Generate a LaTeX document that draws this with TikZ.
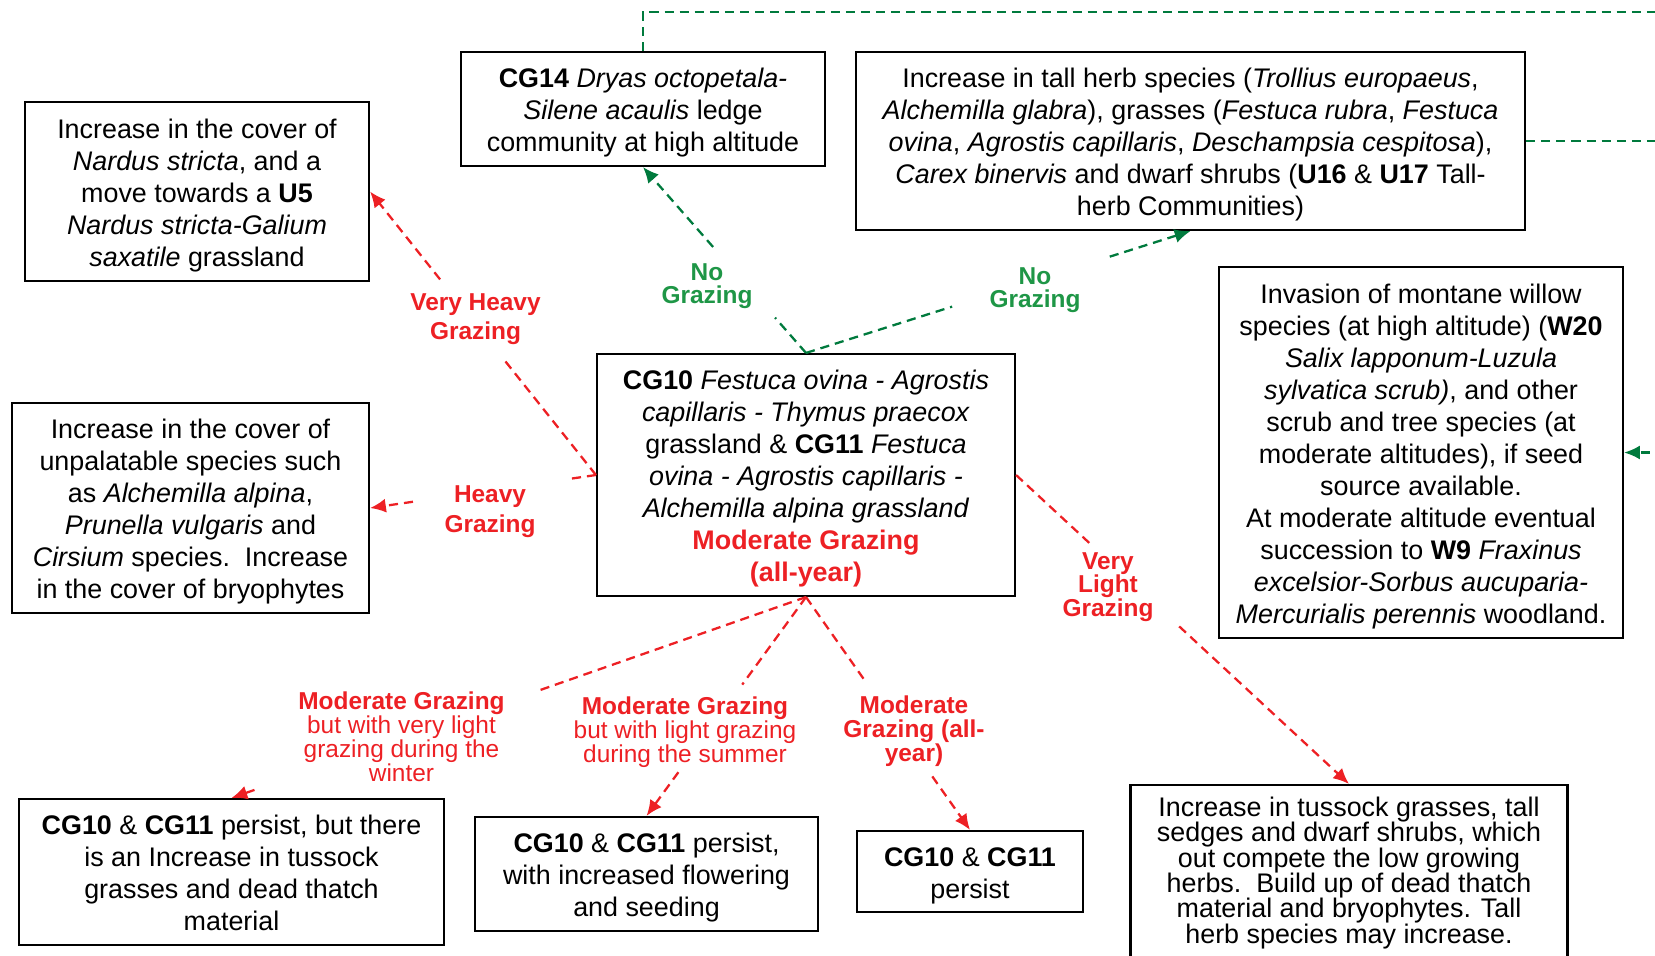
\documentclass[tikz,border=0pt]{standalone}
\usepackage{fontspec}
\setmainfont{Liberation Sans}
\usetikzlibrary{calc,arrows.meta}
\definecolor{grazered}{RGB}{237,32,36}
\definecolor{restgreen}{RGB}{0,122,61}
\definecolor{restgreentext}{RGB}{30,150,70}
% first line of a box sits a little lower
\newcommand{\upstrut}{\rule{0pt}{7.9pt}}

\begin{document}
\begin{tikzpicture}[
  box/.style={draw,line width=0.6pt,align=center,inner sep=0pt,font=\fontsize{7.65}{9.1}\selectfont,
    execute at end node={\rule[-1.7pt]{0pt}{1.7pt}}},
  redarr/.style={color=grazered,line width=0.65pt,dash pattern=on 2.6pt off 1.7pt,-{Latex[length=4.5pt,width=4pt]}},
  greenarr/.style={color=restgreen,line width=0.65pt,dash pattern=on 2.6pt off 1.7pt,-{Latex[length=4.5pt,width=4pt]}},
  greenline/.style={color=restgreen,line width=0.65pt,dash pattern=on 2.6pt off 1.7pt},
  redlbl/.style={text=grazered,align=center,inner sep=0pt,font=\fontsize{6.95}{6.8}\selectfont},
  greenlbl/.style={text=restgreentext,align=center,inner sep=0pt,font=\fontsize{6.95}{6.6}\selectfont\bfseries}
]
  \useasboundingbox (0,0) rectangle (16.55,-9.55);

  % boxes
  \node[box,minimum width=3.64cm,minimum height=1.14cm] (cg14) at (6.43,-1.09)
    {\upstrut\textbf{CG14} \textit{Dryas octopetala-}\\ \textit{Silene acaulis} ledge\\ community at high altitude};
  \node[box,minimum width=6.69cm,minimum height=1.78cm] (tallherb) at (11.905,-1.41)
    {\upstrut Increase in tall herb species (\textit{Trollius europaeus},\\
     \textit{Alchemilla glabra}), grasses (\textit{Festuca rubra}, \textit{Festuca}\\
     \textit{ovina}, \textit{Agrostis capillaris}, \textit{Deschampsia cespitosa}),\\
     \textit{Carex binervis} and dwarf shrubs (\textbf{U16} \& \textbf{U17} Tall-\\
     herb Communities)};
  \node[box,minimum width=3.44cm,minimum height=1.79cm] (nardus) at (1.97,-1.915)
    {\upstrut Increase in the cover of\\ \textit{Nardus stricta}, and a\\ move towards a \textbf{U5}\\
     \textit{Nardus stricta-Galium}\\ \textit{saxatile} grassland};
  \node[box,minimum width=3.57cm,minimum height=2.10cm] (unpal) at (1.905,-5.08)
    {\upstrut Increase in the cover of\\ unpalatable species such\\ as \textit{Alchemilla alpina},\\
     \textit{Prunella vulgaris} and\\ \textit{Cirsium} species.\ \ Increase\\ in the cover of bryophytes};
  \node[box,minimum width=4.18cm,minimum height=2.42cm] (cg10) at (8.06,-4.75)
    {\upstrut\textbf{CG10} \textit{Festuca ovina - Agrostis}\\ \textit{capillaris - Thymus praecox}\\
     grassland \& \textbf{CG11} \textit{Festuca}\\ \textit{ovina - Agrostis capillaris -}\\
     \textit{Alchemilla alpina grassland}\\
     \textcolor{grazered}{\textbf{Moderate Grazing}}\\ \textcolor{grazered}{\textbf{(all-year)}}};
  \node[box,minimum width=4.04cm,minimum height=3.71cm] (willow) at (14.21,-4.525)
    {\upstrut Invasion of montane willow\\ species (at high altitude) (\textbf{W20}\\
     \textit{Salix lapponum-Luzula}\\ \textit{sylvatica scrub)}, and other\\
     scrub and tree species (at\\ moderate altitudes), if seed\\ source available.\\
     At moderate altitude eventual\\ succession to \textbf{W9} \textit{Fraxinus}\\
     \textit{excelsior-Sorbus aucuparia-}\\ \textit{Mercurialis perennis} woodland.};
  \node[box,minimum width=4.25cm,minimum height=1.46cm] (winter) at (2.315,-8.72)
    {\upstrut\textbf{CG10} \& \textbf{CG11} persist, but there\\ is an Increase in tussock\\
     grasses and dead thatch\\ material};
  \node[box,minimum width=3.43cm,minimum height=1.14cm] (summer) at (6.465,-8.74)
    {\upstrut\textbf{CG10} \& \textbf{CG11} persist,\\ with increased flowering\\ and seeding};
  \node[box,minimum width=2.26cm,minimum height=0.81cm] (persist) at (9.70,-8.715)
    {\upstrut\textbf{CG10} \& \textbf{CG11}\\ persist};
  \node[box,minimum width=4.37cm,minimum height=1.74cm,font=\fontsize{7.65}{7.23}\selectfont,
        execute at end node={\rule[-3.5pt]{0pt}{3.5pt}}] (tussock) at (13.49,-8.72)
    {\upstrut Increase in tussock grasses, tall\\ sedges and dwarf shrubs, which\\
     out compete the low growing\\ herbs.\ \ Build up of dead thatch\\
     material and bryophytes. Tall\\ herb species may increase.};

  % labels
  \node[greenlbl] (nogA) at (7.07,-2.865) {No\\ Grazing};
  \node[greenlbl] (nogB) at (10.35,-2.90) {No\\ Grazing};
  \node[redlbl,font=\fontsize{6.95}{8.4}\selectfont\bfseries] (vheavy) at (4.755,-3.19) {Very Heavy\\ Grazing};
  \node[redlbl,font=\fontsize{6.95}{8.4}\selectfont\bfseries] (heavy) at (4.90,-5.115) {Heavy\\ Grazing};
  \node[redlbl,font=\fontsize{6.95}{6.75}\selectfont\bfseries] (vlight) at (11.08,-5.87) {Very\\ Light\\ Grazing};
  \node[redlbl] (winterlbl) at (4.015,-7.37) {\textbf{Moderate Grazing}\\ but with very light\\ grazing during the\\ winter};
  \node[redlbl] (summerlbl) at (6.85,-7.32) {\textbf{Moderate Grazing}\\ but with light grazing\\ during the summer};
  \node[redlbl,font=\fontsize{6.95}{6.8}\selectfont\bfseries] (allyearlbl) at (9.14,-7.31) {Moderate\\ Grazing (all-\\ year)};

  % green links off to the right
  \coordinate (offtop) at (16.8,-0.12);
  \coordinate (offherb) at (16.8,-1.41);
  \coordinate (offwillow) at (16.8,-4.525);
  \draw[greenline] (cg14.north) |- (offtop);
  \draw[greenline] (tallherb.east) -- (offherb);
  \draw[greenarr] (offwillow) -- (willow.east);

  % no grazing
  \draw[greenarr] (cg10.north) -- ($(cg10.north)!.19!(cg14.south)$) ($(cg10.north)!.57!(cg14.south)$) -- (cg14.south);
  \draw[greenarr] (cg10.north) -- ($(cg10.north)!.38!(tallherb.south)$) ($(cg10.north)!.79!(tallherb.south)$) -- (tallherb.south);

  % heavier grazing
  \draw[redarr] (cg10.west) -- ($(cg10.west)!.41!(nardus.east)$) ($(cg10.west)!.69!(nardus.east)$) -- (nardus.east);
  \draw[redarr] (cg10.west) -- ($(cg10.west)!.11!(unpal.east)$) ($(cg10.west)!.81!(unpal.east)$) -- (unpal.east);
  \draw[redarr] (cg10.east) -- ($(cg10.east)!.22!(tussock.north)$) ($(cg10.east)!.49!(tussock.north)$) -- (tussock.north);

  % moderate grazing
  \draw[redarr] (cg10.south) -- ($(cg10.south)!.47!(winter.north)$) ($(cg10.south)!.96!(winter.north)$) -- (winter.north);
  \draw[redarr] (cg10.south) -- ($(cg10.south)!.40!(summer.north)$) ($(cg10.south)!.80!(summer.north)$) -- (summer.north);
  \draw[redarr] (cg10.south) -- ($(cg10.south)!.37!(persist.north)$) ($(cg10.south)!.77!(persist.north)$) -- (persist.north);
\end{tikzpicture}
\end{document}
